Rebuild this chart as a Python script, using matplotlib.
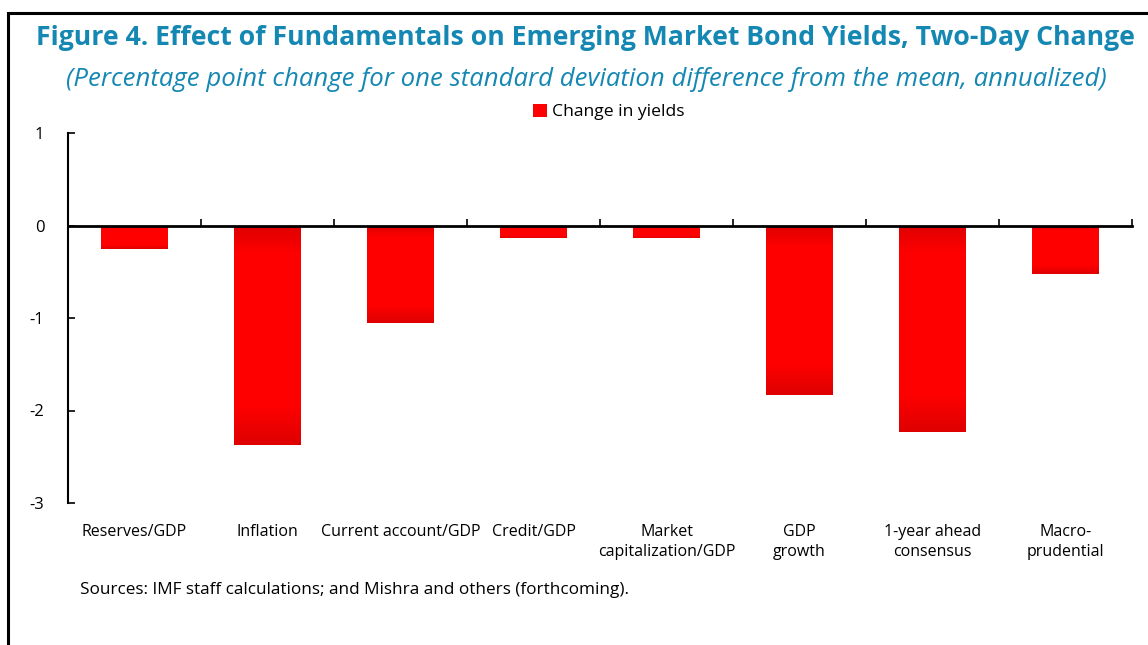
import numpy as np
import matplotlib
matplotlib.use("Agg")
import matplotlib.pyplot as plt
from matplotlib.patches import Rectangle, Patch
from matplotlib.colors import LinearSegmentedColormap
import matplotlib.transforms as mtransforms

# data
categories = ["Reserves/GDP", "Inflation", "Current account/GDP", "Credit/GDP",
              "Market\ncapitalization/GDP", "GDP\ngrowth", "1-year ahead\nconsensus",
              "Macro-\nprudential"]
yield_change = [-0.25, -2.37, -1.05, -0.13, -0.13, -1.83, -2.23, -0.52]
y_ticks = [1, 0, -1, -2, -3]

teal = "#1487b3"
plt.rcParams["font.family"] = ["Open Sans", "DejaVu Sans"]

fig = plt.figure(figsize=(11.48, 6.45), dpi=100)
ax = fig.add_axes([68 / 1148, 1 - 503 / 645, (1132 - 68) / 1148, (503 - 133) / 645])

x = np.arange(len(categories))
bars = ax.bar(x, yield_change, width=0.5, color="#ff0000", zorder=2)

# excel-style gradient: darker at both ends of each bar
cmap = LinearSegmentedColormap.from_list(
    "redgrad", [(0, "#de0000"), (0.13, "#ff0000"), (0.82, "#ff0000"), (1, "#de0000")])
grad = np.linspace(0, 1, 256).reshape(-1, 1)
for b in bars:
    x0, w = b.get_x(), b.get_width()
    y0, h = b.get_y(), b.get_height()
    im = ax.imshow(grad, cmap=cmap, aspect="auto", extent=[x0, x0 + w, y0 + h, y0],
                   origin="upper", zorder=3)
    im.set_clip_path(b)

ax.set_xlim(-0.5, len(categories) - 0.5)
ax.set_ylim(-3, 1)
ax.set_yticks(y_ticks)
ax.set_yticklabels([str(t) for t in y_ticks], fontsize=12)
ax.tick_params(axis="y", direction="in", length=5, width=1.2, pad=17, colors="black")

ax.spines["top"].set_visible(False)
ax.spines["right"].set_visible(False)
ax.spines["bottom"].set_position(("data", 0))
ax.spines["bottom"].set_linewidth(2)
ax.spines["bottom"].set_zorder(4)
ax.spines["left"].set_linewidth(1.5)
ax.set_xticks(np.arange(len(categories) + 1) - 0.5)
ax.set_xticklabels([])
ax.tick_params(axis="x", direction="in", length=5, width=1.2)

trans = mtransforms.blended_transform_factory(ax.transData, ax.transAxes)
for xi, lab in zip(x, categories):
    ax.text(xi, -0.056, lab, transform=trans, ha="center", va="top",
            fontsize=11.5, linespacing=1.32)

ax.legend(handles=[Patch(facecolor="#ff0000", edgecolor="none", label="Change in yields")],
          loc="center", bbox_to_anchor=(609 / 1148, 1 - 112 / 645), bbox_transform=fig.transFigure,
          frameon=False, fontsize=12.6, handlelength=0.8, handleheight=0.8, handletextpad=0.3)

fig.text(585 / 1148, 1 - 38 / 645,
         "Figure 4. Effect of Fundamentals on Emerging Market Bond Yields, Two-Day Change",
         ha="center", va="center", fontsize=19.2, fontweight="bold", color=teal)
fig.text(586 / 1148, 1 - 79 / 645,
         "(Percentage point change for one standard deviation difference from the mean, annualized)",
         ha="center", va="center", fontsize=18.5, style="italic", color=teal)
fig.text(80 / 1148, 1 - 590 / 645,
         "Sources: IMF staff calculations; and Mishra and others (forthcoming).",
         ha="left", va="center", fontsize=12.3)

# frame around the figure (only top and left edges are in view)
fig.patches.append(Rectangle((8 / 1148, -0.2), 1.2, 1.2 - 13 / 645, transform=fig.transFigure,
                             fill=False, edgecolor="black", linewidth=2.2))

fig.savefig("out.png", dpi=100)
